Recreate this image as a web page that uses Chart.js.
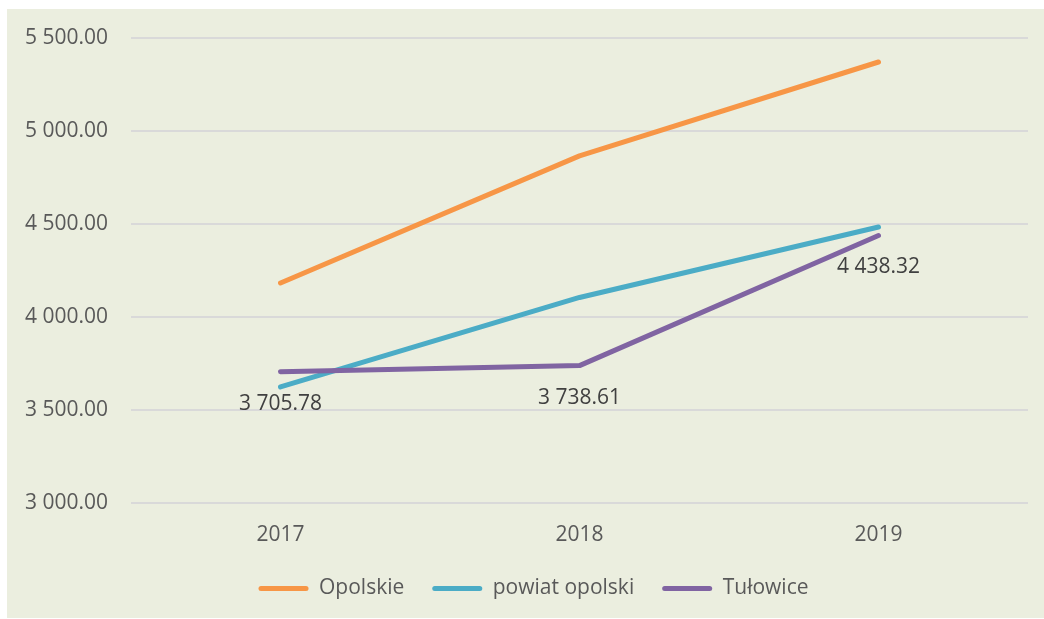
<!DOCTYPE html>
<html>
<head>
<meta charset="utf-8">
<script src="https://cdn.jsdelivr.net/npm/chart.js@4.4.1/dist/chart.umd.min.js"></script>
<style>
  html, body { margin: 0; padding: 0; background: #ffffff; }
  #wrap {
    position: absolute; left: 7px; top: 9px;
    width: 1037px; height: 609px;
    background: #ebeedf;
  }
</style>
</head>
<body>
<div id="wrap"><canvas id="chart" width="1037" height="609"></canvas></div>
<script>
// years on the x axis
var years = ["2017", "2018", "2019"];

// values per area
var opolskie = [4183, 4866, 5371];
var powiatOpolski = [3624, 4105, 4484];
var tulowice = [3705.78, 3738.61, 4438.32];

// y axis range
var yMin = 3000;
var yMax = 5500;
var yStep = 500;

var FONT = "'Open Sans', 'Noto Sans', sans-serif";

// "5500" -> "5 500.00"
function fmt(v) {
    var s = v.toFixed(2);
    var parts = s.split(".");
    var whole = parts[0].replace(/\B(?=(\d{3})+(?!\d))/g, " ");
    return whole + "." + parts[1];
}

// value labels under the Tułowice points
var valueLabels = {
    id: "valueLabels",
    afterDatasetsDraw: function(chart) {
        var ctx = chart.ctx;
        var idx = 2;
        var meta = chart.getDatasetMeta(idx);
        var data = chart.data.datasets[idx].data;
        ctx.save();
        ctx.font = "21px " + FONT;
        ctx.fillStyle = "#404040";
        ctx.textAlign = "center";
        ctx.textBaseline = "middle";
        meta.data.forEach(function(pt, i) {
            ctx.fillText(fmt(data[i]), pt.x, pt.y + 32);
        });
        ctx.restore();
    }
};

// nudge the legend a bit to the right of the canvas centre
var legendShift = {
    id: "legendShift",
    afterLayout: function(chart) {
        chart.legend.left += 16;
        chart.legend.right += 16;
    }
};

var lineDefaults = {
    borderWidth: 5,
    borderCapStyle: "round",
    borderJoinStyle: "round",
    pointRadius: 0,
    pointHoverRadius: 0,
    tension: 0,
    fill: false
};

var datasets = [
    Object.assign({ label: "Opolskie", data: opolskie, borderColor: "#f79646", backgroundColor: "#f79646", order: 2 }, lineDefaults),
    Object.assign({ label: "powiat opolski", data: powiatOpolski, borderColor: "#4bacc6", backgroundColor: "#4bacc6", order: 1 }, lineDefaults),
    Object.assign({ label: "Tułowice", data: tulowice, borderColor: "#8064a2", backgroundColor: "#8064a2", order: 0 }, lineDefaults)
];

var chart = new Chart(document.getElementById("chart"), {
    type: "line",
    data: { labels: years, datasets: datasets },
    plugins: [valueLabels, legendShift],
    options: {
        responsive: false,
        animation: false,
        layout: { padding: { top: 29, right: 16, bottom: 9, left: 0 } },
        plugins: {
            tooltip: { enabled: false },
            legend: {
                position: "bottom",
                labels: {
                    sort: function(a, b) { return a.datasetIndex - b.datasetIndex; },
                    boxWidth: 50,
                    boxHeight: 5,
                    padding: 28,
                    color: "#595959",
                    font: { family: FONT, size: 21 },
                    generateLabels: function(chart) {
                        return chart.data.datasets.map(function(ds, i) {
                            return {
                                text: ds.label,
                                fillStyle: ds.borderColor,
                                strokeStyle: ds.borderColor,
                                lineWidth: 0,
                                borderRadius: 2.5,
                                fontColor: "#595959",
                                datasetIndex: i
                            };
                        });
                    }
                }
            }
        },
        scales: {
            x: {
                offset: true,
                grid: { display: false, drawTicks: false },
                border: { display: false },
                ticks: {
                    color: "#595959",
                    font: { family: FONT, size: 21 },
                    padding: 19
                },
                afterFit: function(scale) { scale.height = 47; }
            },
            y: {
                min: yMin,
                max: yMax,
                grid: { color: "#d9d9d9", lineWidth: 2, drawTicks: false },
                border: { display: false },
                ticks: {
                    stepSize: yStep,
                    color: "#595959",
                    font: { family: FONT, size: 21 },
                    padding: 23,
                    callback: function(v) { return fmt(v); }
                },
                afterFit: function(scale) {
                    // keep the label gap from pushing the plot area down
                    scale.width = 124;
                    scale.paddingTop = 12;
                    scale.paddingBottom = 12;
                }
            }
        }
    }
});
</script>
</body>
</html>
